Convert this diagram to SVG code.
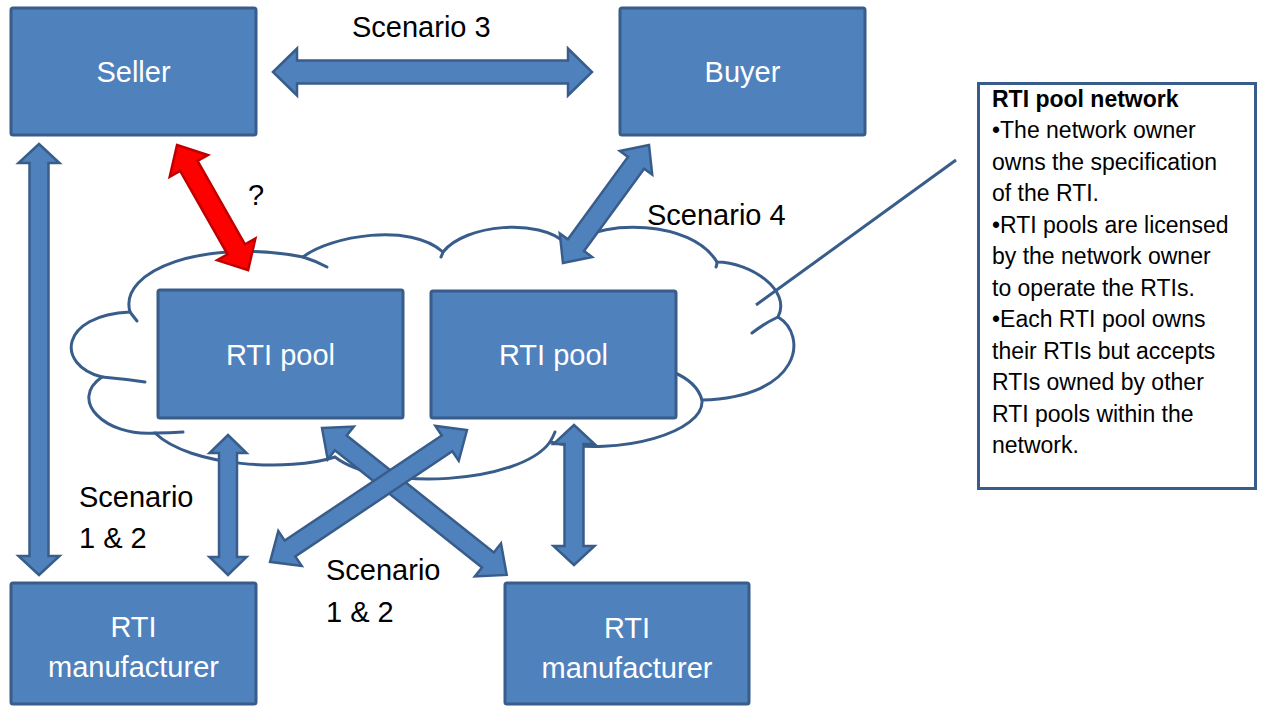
<svg xmlns="http://www.w3.org/2000/svg" width="1261" height="708" viewBox="0 0 1261 708">
  <style>
    .box { fill: #4f81bd; stroke: #385d8a; stroke-width: 3; }
    .arrow { fill: #4f81bd; stroke: #385d8a; stroke-width: 2.5; stroke-linejoin: miter; }
    .red { fill: #ff0000; stroke: #c00000; stroke-width: 2.5; }
    .outline { fill: none; stroke: #385d8a; stroke-width: 3; stroke-linecap: round; }
    .node { font-family: "Liberation Sans", Arial, sans-serif; font-size: 29px; fill: #ffffff; text-anchor: middle; }
    .label { font-family: "Liberation Sans", Arial, sans-serif; font-size: 29px; fill: #000000; }
    .note { font-family: "Liberation Sans", Arial, sans-serif; font-size: 23px; fill: #000000; }
  </style>

  <!-- network cloud -->
  <g id="cloud">
    <path d="M130,312 C118,270 205,238 303,257 C330,236 410,222 443,252 C465,224 540,218 565,243 L580,240 C600,222 690,218 717,262 C750,262 792,290 778,317 C808,335 802,397 702,400 C705,432 620,457 550,442 C520,484 380,492 335,457 C290,472 190,467 155,433 C105,437 68,400 102,377 C55,365 60,315 130,312 Z" fill="#ffffff" stroke="#385d8a" stroke-width="3"/>
    <path class="outline" d="M130,312 Q133,316 137,321"/>
    <path class="outline" d="M303,257 Q316,261 327,267"/>
    <path class="outline" d="M443,252 Q442,255 441,257"/>
    <path class="outline" d="M717,262 Q717,265 716,267"/>
    <path class="outline" d="M778,317 Q765,323 752,333"/>
    <path class="outline" d="M673,372 Q697,382 702,400"/>
    <path class="outline" d="M555,432 Q553,437 550,442"/>
    <path class="outline" d="M155,433 Q170,433 183,432"/>
    <path class="outline" d="M102,377 Q125,379 145,382"/>
  </g>

  <!-- callout from the cloud to the note -->
  <g id="callout">
    <line x1="756" y1="305" x2="956" y2="160" stroke="#385d8a" stroke-width="3"/>
  </g>

  <g id="seller">
    <rect class="box" x="11" y="8" width="245" height="127" rx="2"/>
    <text class="node" x="133.5" y="82">Seller</text>
  </g>
  <g id="buyer">
    <rect class="box" x="620" y="8" width="245" height="127" rx="2"/>
    <text class="node" x="742.5" y="82">Buyer</text>
  </g>
  <g id="pool-left">
    <rect class="box" x="158" y="290" width="245" height="128" rx="2"/>
    <text class="node" x="280.5" y="365">RTI pool</text>
  </g>
  <g id="pool-right">
    <rect class="box" x="431" y="291" width="245" height="127" rx="2"/>
    <text class="node" x="553.5" y="365">RTI pool</text>
  </g>
  <g id="manufacturer-left">
    <rect class="box" x="11" y="583" width="245" height="121" rx="2"/>
    <text class="node" x="133.5" y="637">RTI</text>
    <text class="node" x="133.5" y="677">manufacturer</text>
  </g>
  <g id="manufacturer-right">
    <rect class="box" x="505" y="583" width="244" height="121" rx="2"/>
    <text class="node" x="627" y="638">RTI</text>
    <text class="node" x="627" y="678">manufacturer</text>
  </g>

  <g id="note">
    <rect x="978.5" y="83.5" width="277" height="405" fill="#ffffff" stroke="#385d8a" stroke-width="3"/>
    <text class="note" x="992" y="107" font-weight="bold" font-size="22.5">RTI pool network</text>
    <text class="note" x="992" y="138">•The network owner</text>
    <text class="note" x="992" y="170">owns the specification</text>
    <text class="note" x="992" y="201">of the RTI.</text>
    <text class="note" x="992" y="233">•RTI pools are licensed</text>
    <text class="note" x="992" y="264">by the network owner</text>
    <text class="note" x="992" y="296">to operate the RTIs.</text>
    <text class="note" x="992" y="327">•Each RTI pool owns</text>
    <text class="note" x="992" y="359">their RTIs but accepts</text>
    <text class="note" x="992" y="390">RTIs owned by other</text>
    <text class="note" x="992" y="422">RTI pools within the</text>
    <text class="note" x="992" y="453">network.</text>
  </g>

  <!-- double-headed block arrows, each drawn along +x from its first end -->
  <g id="connectors">
    <!-- Seller <-> Buyer -->
    <polygon class="arrow" transform="translate(273,72)" points="0,0 24,-23.5 24,-11.5 295,-11.5 295,-23.5 319,0 295,23.5 295,11.5 24,11.5 24,23.5"/>
    <!-- Seller <-> left manufacturer -->
    <polygon class="arrow" transform="translate(39,144) rotate(90)" points="0,0 19,-20.5 19,-9.5 412,-9.5 412,-20.5 431,0 412,20.5 412,9.5 19,9.5 19,20.5"/>
    <!-- left pool <-> left manufacturer -->
    <polygon class="arrow" transform="translate(228,435) rotate(90)" points="0,0 18,-18.5 18,-9 122,-9 122,-18.5 140,0 122,18.5 122,9 18,9 18,18.5"/>
    <!-- right pool <-> right manufacturer -->
    <polygon class="arrow" transform="translate(574,425) rotate(90)" points="0,0 19,-20.5 19,-9.5 121,-9.5 121,-20.5 140,0 121,20.5 121,9.5 19,9.5 19,20.5"/>
    <!-- Buyer <-> right pool -->
    <polygon class="arrow" transform="translate(649,145) rotate(126.1)" points="0,0 22,-20 22,-10 124,-10 124,-20 146,0 124,20 124,10 22,10 22,20"/>
    <!-- left pool <-> right manufacturer -->
    <polygon class="arrow" transform="translate(322,428) rotate(38.5)" points="0,0 24,-21 24,-9.5 212,-9.5 212,-21 236,0 212,21 212,9.5 24,9.5 24,21"/>
    <!-- right pool <-> left manufacturer -->
    <polygon class="arrow" transform="translate(467,430) rotate(146.2)" points="0,0 24,-21 24,-9.5 213,-9.5 213,-21 237,0 213,21 213,9.5 24,9.5 24,21"/>
    <!-- Seller <-> left pool (open question) -->
    <polygon class="red" transform="translate(177,145) rotate(60.4)" points="0,0 24,-22 24,-10 120,-10 120,-22 144,0 120,22 120,10 24,10 24,22"/>
  </g>

  <g id="labels">
    <text class="label" x="352" y="37">Scenario 3</text>
    <text class="label" x="248" y="205">?</text>
    <text class="label" x="647" y="225">Scenario 4</text>
    <text class="label" x="79" y="507">Scenario</text>
    <text class="label" x="79" y="548">1 &amp; 2</text>
    <text class="label" x="326" y="580">Scenario</text>
    <text class="label" x="326" y="622">1 &amp; 2</text>
  </g>
</svg>
